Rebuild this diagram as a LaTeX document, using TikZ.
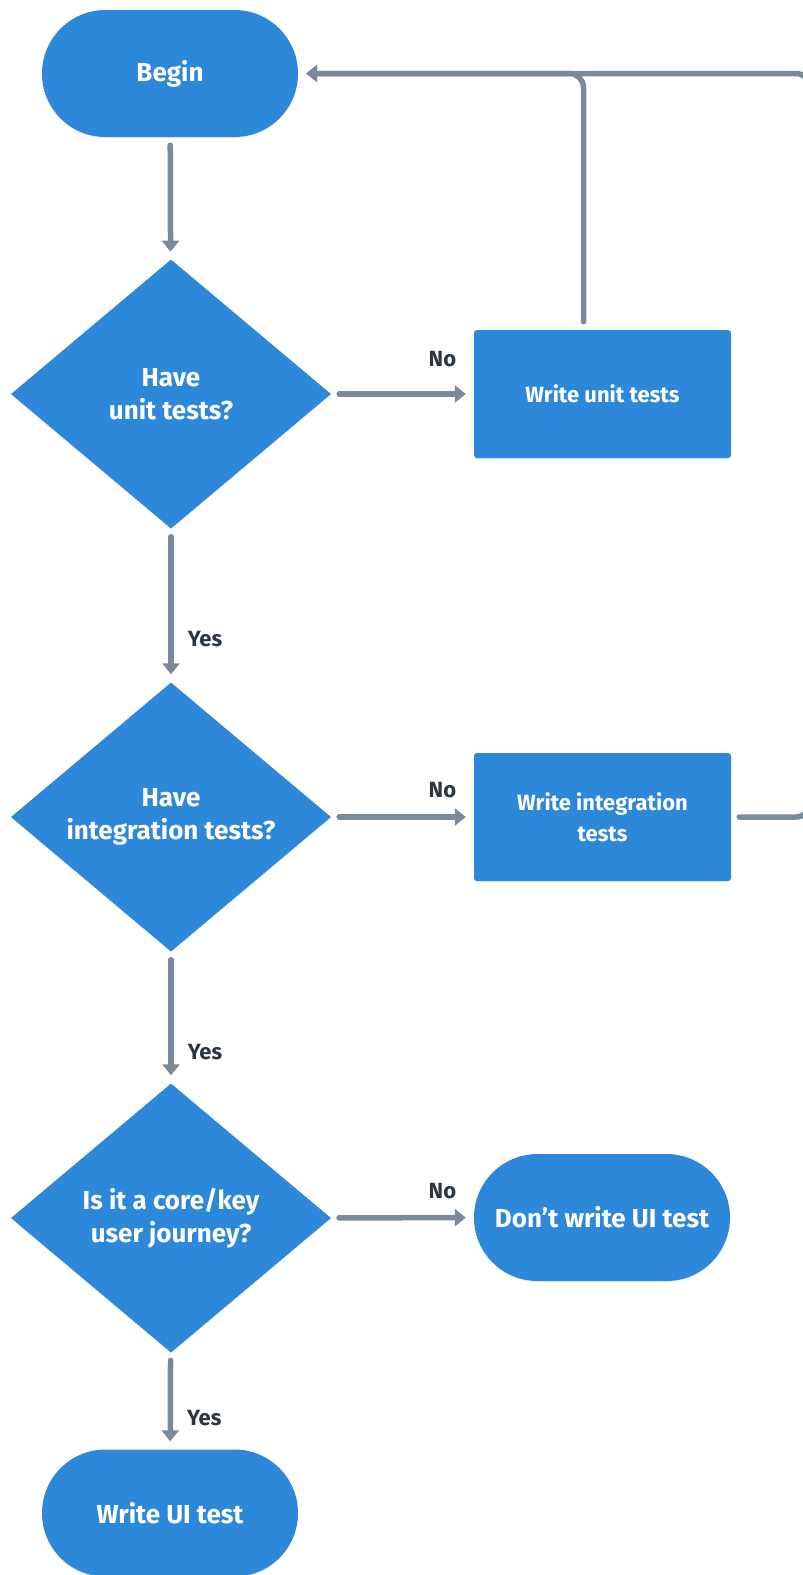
\documentclass[tikz,border=0pt]{standalone}
\usepackage{fontspec}
\setmainfont{Fira Sans}
\usetikzlibrary{shapes.geometric,shapes.misc,arrows.meta,calc,shadows}
\definecolor{flowblue}{HTML}{2D88D9}
\definecolor{linkgray}{HTML}{7A8A99}
\definecolor{labeltext}{HTML}{2B3640}

\begin{document}
\begin{tikzpicture}[x=1pt,y=-1pt,
  base/.style={fill=flowblue, text=white, draw=none, align=center, inner sep=0pt,
    drop shadow={opacity=0.15, shadow xshift=0pt, shadow yshift=-1pt},
    font=\fontsize{26}{33}\selectfont\bfseries},
  terminal/.style={base, rounded rectangle, minimum width=256pt, minimum height=127pt},
  decision/.style={base, diamond, aspect=1.19, minimum width=320pt, minimum height=269pt},
  process/.style={base, rectangle, rounded corners=3pt, minimum width=257pt, minimum height=128pt,
    font=\fontsize{22}{31}\selectfont\bfseries},
  link/.style={draw=linkgray, line width=5.5pt, line cap=round,
    -{Triangle[length=11pt,width=17pt]}, shorten >=8pt, shorten <=8pt},
  answer/.style={text=labeltext, inner sep=0pt, font=\fontsize{22}{24}\selectfont\bfseries}
]
\useasboundingbox (0,0) rectangle (803,1575);
\clip (0,0) rectangle (803,1575);

% flow nodes
\node[terminal] (begin)   at (170,73.5)  {Begin};
\node[decision] (unit)    at (171,394)   {Have\\unit tests?};
\node[process]  (wunit)   at (602.5,394) {Write unit tests};
\node[decision] (integ)   at (171,817)   {Have\\integration tests?};
\node[process]  (winteg)  at (602.5,817) {Write integration\\tests};
\node[decision] (journey) at (171,1218)  {Is it a core/key\\user journey?};
\node[terminal] (skip)    at (602,1217.5) {Don’t write UI test};
\node[terminal] (wui)     at (170,1513)  {Write UI test};

% helper points for the loop back to the start
\coordinate (riser) at ($(wunit.north)+(-19,0)$);
\coordinate (rim) at (810,0);

% main flow
\draw[link] (begin) -- (unit);
\draw[link] (unit) -- node[answer, pos=0.78, anchor=south, yshift=24pt] {No} (wunit);
\draw[link] (unit) -- node[answer, pos=0.72, anchor=west, xshift=14pt] {Yes} (integ);
\draw[link] (integ) -- node[answer, pos=0.78, anchor=south, yshift=16pt] {No} (winteg);
\draw[link] (integ) -- node[answer, pos=0.76, anchor=west, xshift=14pt] {Yes} (journey);
\draw[link] (journey) -- node[answer, pos=0.78, anchor=south, yshift=16pt] {No} (skip);
\draw[link] (journey) -- node[answer, pos=0.68, anchor=west, xshift=14pt] {Yes} (wui);

% loops back to Begin
\draw[link, rounded corners=14pt] (riser) -- (riser |- begin.east) -- (begin.east);
\draw[link, rounded corners=14pt] (winteg.east) -- (winteg.east -| rim) -- (rim |- begin.east) -- (begin.east);
\end{tikzpicture}
\end{document}
